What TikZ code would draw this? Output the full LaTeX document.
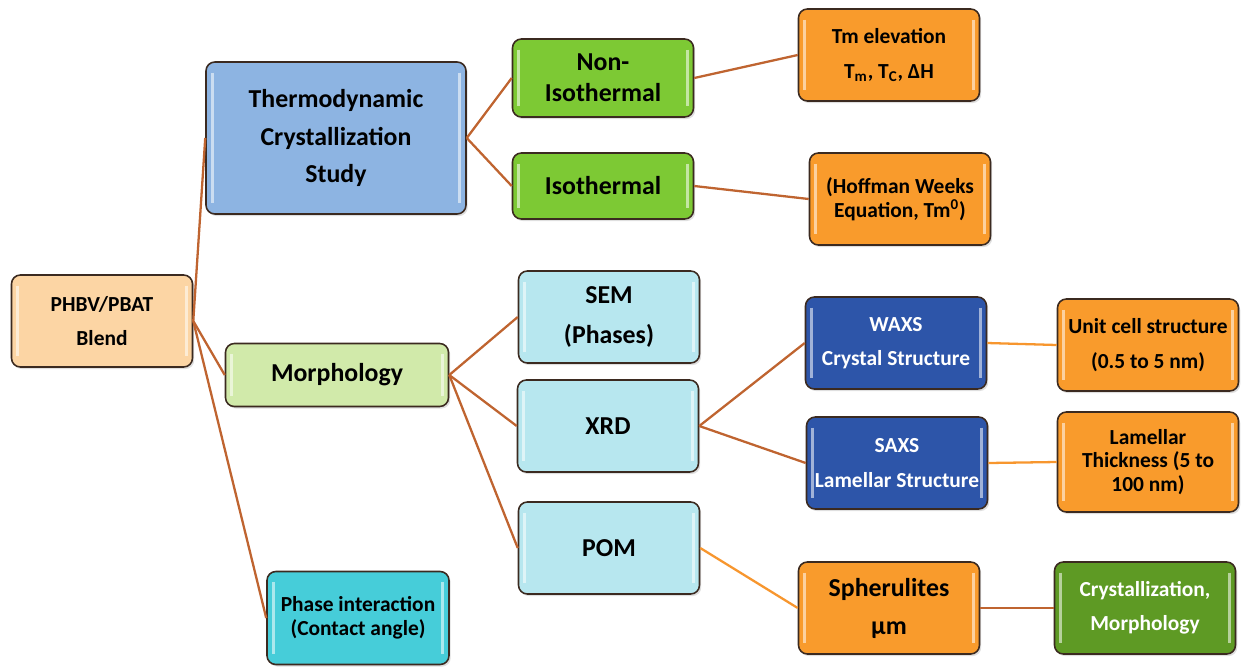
\documentclass[tikz,border=0pt]{standalone}
\usepackage{fontspec}
\setmainfont{Carlito}
\usetikzlibrary{shadows}

\definecolor{edge}{HTML}{3B2A20}
\definecolor{linkbrown}{HTML}{BF6430}
\definecolor{linkorange}{HTML}{F7962E}
\definecolor{blendfill}{HTML}{FCD5A4}
\definecolor{thermofill}{HTML}{8DB4E2}
\definecolor{morphfill}{HTML}{D1EAAA}
\definecolor{phasefill}{HTML}{46CDD9}
\definecolor{grassfill}{HTML}{7DC934}
\definecolor{skyfill}{HTML}{B7E7EF}
\definecolor{orangefill}{HTML}{F99B2C}
\definecolor{navyfill}{HTML}{2D55A9}
\definecolor{leaffill}{HTML}{5E9A24}

\tikzset{
    box/.style={draw=edge, line width=0.9pt, rounded corners=5pt, align=center, inner sep=1pt,
        minimum width=3.62cm, minimum height=1.84cm,
        font=\bfseries\fontsize{12.2}{19.5}\selectfont,
        drop shadow={opacity=0.25, shadow xshift=1pt, shadow yshift=-1.2pt},
        path picture={
            \draw[white, opacity=0.55, line width=1.6pt]
                ([xshift=3.5pt, yshift=-6pt]path picture bounding box.north west) -- ([xshift=3.5pt, yshift=6pt]path picture bounding box.south west)
                ([xshift=-3.5pt, yshift=-6pt]path picture bounding box.north east) -- ([xshift=-3.5pt, yshift=6pt]path picture bounding box.south east);
        }},
    tight/.style={font=\bfseries\fontsize{12.2}{13.5}\selectfont},
    bigbox/.style={box, font=\bfseries\fontsize{14.7}{21.6}\selectfont},
    link/.style={draw=linkbrown, line width=1.3pt},
    lightlink/.style={draw=linkorange, line width=1.3pt},
}

\begin{document}
\begin{tikzpicture}[x=0.02cm, y=-0.02cm]
    \useasboundingbox (0,0) rectangle (1241,667);

    % first level
    \node[box, fill=blendfill] at (102,321) (blend) {PHBV/PBAT\\Blend};
    \node[bigbox, fill=thermofill, minimum width=5.2cm, minimum height=3.04cm] at (336,138) (thermo) {Thermodynamic\\Crystallization\\Study};
    \node[bigbox, fill=morphfill, minimum width=4.46cm, minimum height=1.26cm] at (337,375) (morph) {Morphology};
    \node[box, tight, fill=phasefill, minimum width=3.64cm, minimum height=1.86cm] at (358,618) (phase) {Phase interaction\\(Contact angle)};

    % second level
    \node[bigbox, fill=grassfill, minimum height=1.56cm, font=\bfseries\fontsize{14.7}{17.6}\selectfont] at (603,78) (noniso) {Non-\\Isothermal};
    \node[bigbox, fill=grassfill, minimum height=1.32cm] at (603,186) (iso) {Isothermal};
    \node[bigbox, fill=skyfill, font=\bfseries\fontsize{14.7}{22.8}\selectfont] at (609,317) (sem) {SEM\\(Phases)};
    \node[bigbox, fill=skyfill] at (608,426) (xrd) {XRD};
    \node[bigbox, fill=skyfill] at (609,548) (pom) {POM};

    % third level
    \node[box, fill=orangefill] at (889,55) (tm) {Tm elevation\\T\textsubscript{m}, T\textsubscript{C}, ΔH};
    \node[box, tight, fill=orangefill] at (900,199) (hoffman) {(Hoffman Weeks\\Equation, Tm\textsuperscript{0})};
    \node[box, fill=navyfill, text=white] at (896,343) (waxs) {WAXS\\Crystal Structure};
    \node[box, fill=navyfill, text=white] at (897,463) (saxs) {SAXS\\Lamellar Structure};
    \node[bigbox, fill=orangefill] at (889,608) (spher) {Spherulites\\μm};

    % fourth level
    \node[box, fill=orangefill] at (1148,345) (unitcell) {Unit cell structure\\(0.5 to 5 nm)};
    \node[box, tight, fill=orangefill, minimum height=2cm] at (1148,462) (lamellar) {Lamellar\\Thickness (5 to\\100 nm)};
    \node[box, fill=leaffill, text=white] at (1145,608) (cryst) {Crystallization,\\Morphology};

    \draw[link] (blend.east) -- (thermo.west);
    \draw[link] (blend.east) -- (morph.west);
    \draw[link] (blend.east) -- (phase.west);
    \draw[link] (thermo.east) -- (noniso.west);
    \draw[link] (thermo.east) -- (iso.west);
    \draw[link] (noniso.east) -- (tm.west);
    \draw[link] (iso.east) -- (hoffman.west);
    \draw[link] (morph.east) -- (sem.west);
    \draw[link] (morph.east) -- (xrd.west);
    \draw[link] (morph.east) -- (pom.west);
    \draw[link] (xrd.east) -- (waxs.west);
    \draw[link] (xrd.east) -- (saxs.west);
    \draw[lightlink] (waxs.east) -- (unitcell.west);
    \draw[lightlink] (saxs.east) -- (lamellar.west);
    \draw[lightlink] (pom.east) -- (spher.west);
    \draw[link] (spher.east) -- (cryst.west);
\end{tikzpicture}
\end{document}
